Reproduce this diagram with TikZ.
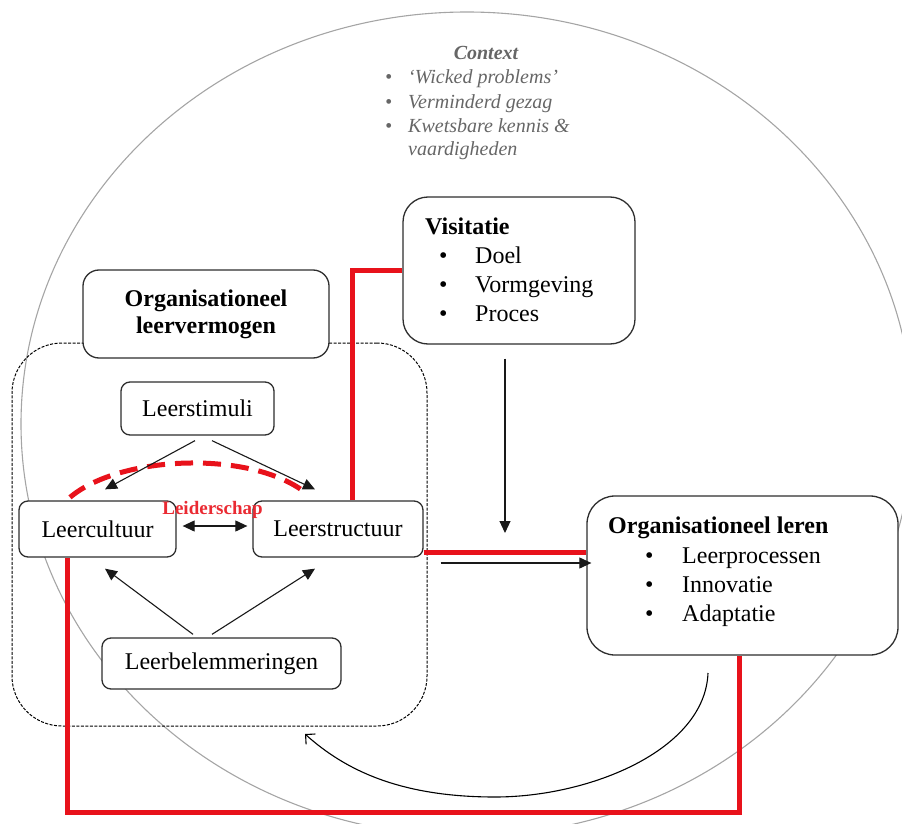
\documentclass[tikz,border=0pt]{standalone}
\usepackage{fontspec}
\setmainfont{Liberation Serif}
\usetikzlibrary{arrows.meta}
\definecolor{ctxgray}{HTML}{666666}
\definecolor{ringgray}{HTML}{A5A5A5}
\definecolor{leadred}{HTML}{E8121B}
\definecolor{boxline}{HTML}{2E2E2E}

\begin{document}
\begin{tikzpicture}[x=1pt,y=-1pt,
  box/.style={draw=boxline, line width=1.3pt, rounded corners=9pt, fill=white,
    inner sep=0pt, font=\fontsize{24}{27}\selectfont},
  lbl/.style={anchor=base west, inner sep=0pt, font=\fontsize{24}{27}\selectfont},
  ctx/.style={anchor=base west, inner sep=0pt, text=ctxgray,
    font=\fontsize{20}{24}\selectfont\itshape},
  link/.style={draw=black!90, line width=1.1pt, -{Triangle[length=12pt,width=11pt]}},
  lead/.style={draw=leadred, line width=5pt},
]
\useasboundingbox (0,0) rectangle (902,824);
\path[clip] (0,0) rectangle (902,824);

% surrounding context ring
\draw[ringgray, line width=1.1pt] (467,424) ellipse [x radius=446, y radius=412];

% context text
\node[anchor=base, inner sep=0pt, text=ctxgray,
  font=\fontsize{20}{24}\selectfont\bfseries\itshape] (ctxT) at (486,60) {Context};
\node[ctx] (cb1) at (385,84) {\textbullet};
\node[ctx] (c1) at (408,84) {‘Wicked problems’};
\node[ctx] (cb2) at (385,109) {\textbullet};
\node[ctx] (c2) at (408,109) {Verminderd gezag};
\node[ctx] (cb3) at (385,133) {\textbullet};
\node[ctx] (c3) at (408,133) {Kwetsbare kennis \&};
\node[ctx] (c4) at (408,156) {vaardigheden};

% dashed group of the learning capacity
\node[draw=black, line width=1pt, dash pattern=on 3pt off 1.5pt,
  rounded corners=50pt, minimum width=415pt, minimum height=383pt, inner sep=0pt]
  (group) at (219.5,534.5) {};

% the feedback loop back into the group
\coordinate (back) at (305,734);
\draw[line width=1.1pt, -{Straight Barb[length=7pt,width=14pt]}]
  (708,673) .. controls (705,750) and (590,797) .. (495,797)
  .. controls (400,797) and (345,770) .. (back);

% boxes
\node[box, rounded corners=25pt, minimum width=232pt, minimum height=147pt] (visit) at (519,270.5) {};
\node[box, rounded corners=28pt, minimum width=311pt, minimum height=159pt] (leren) at (742.5,575.5) {};
\node[box, rounded corners=16pt, minimum width=246pt, minimum height=88pt, align=center,
  font=\fontsize{24}{27}\selectfont\bfseries] (olv) at (206,314) {Organisationeel\\leervermogen};
\node[box, minimum width=153pt, minimum height=53pt] (stim) at (197.5,408.5) {Leerstimuli};
\node[box, minimum width=157pt, minimum height=56pt] (cult) at (97.5,529) {Leercultuur};
\node[box, minimum width=170pt, minimum height=56pt] (struct) at (338,529) {Leerstructuur};
\node[box, minimum width=239pt, minimum height=51pt] (belem) at (221.5,663.5) {Leerbelemmeringen};

% leadership links (red)
\coordinate (redbase) at (0,812);
\draw[lead] ([xshift=14pt]struct.north) |- (visit.west);
\draw[lead] ([yshift=-23pt]struct.east) -- ([yshift=-23pt]struct.east -| leren.west);
\draw[lead, line join=miter] ([xshift=-30.5pt]cult.south) -- ([xshift=-30.5pt]cult.south |- redbase)
  -| ([xshift=-3.5pt]leren.south);
\draw[lead, dash pattern=on 18pt off 10pt]
  ([xshift=-27.5pt,yshift=3pt]cult.north) .. controls (120,455) and (250,450)
  .. ([xshift=-33pt,yshift=8pt]struct.north);

% Visitatie contents
\node[lbl, font=\fontsize{24}{27}\selectfont\bfseries] (visitT) at (425,234) {Visitatie};
\node[lbl] (vb1) at (439,263) {\textbullet};
\node[lbl] (v1) at (475,263) {Doel};
\node[lbl] (vb2) at (439,292) {\textbullet};
\node[lbl] (v2) at (475,292) {Vormgeving};
\node[lbl] (vb3) at (439,321) {\textbullet};
\node[lbl] (v3) at (475,321) {Proces};

% Organisationeel leren contents
\node[lbl, font=\fontsize{24}{27}\selectfont\bfseries] (lerenT) at (608,533) {Organisationeel leren};
\node[lbl] (lb1) at (645,563) {\textbullet};
\node[lbl] (l1) at (682,563) {Leerprocessen};
\node[lbl] (lb2) at (645,592) {\textbullet};
\node[lbl] (l2) at (682,592) {Innovatie};
\node[lbl] (lb3) at (645,621) {\textbullet};
\node[lbl] (l3) at (682,621) {Adaptatie};

% black arrows
\draw[link] ([xshift=-2.5pt,yshift=-5pt]stim.south) -- ([xshift=7.5pt,yshift=11pt]cult.north);
\draw[link] ([xshift=14.5pt,yshift=-5pt]stim.south) -- ([xshift=-23pt,yshift=11pt]struct.north);
\draw[link, {Triangle[length=12pt,width=11pt]}-{Triangle[length=12pt,width=11pt]}]
  ([xshift=6pt,yshift=3pt]cult.east) -- ([xshift=-5pt,yshift=3pt]struct.west);
\draw[link] ([xshift=-28.5pt,yshift=3pt]belem.north) -- ([xshift=7.5pt,yshift=-11pt]cult.south);
\draw[link] ([xshift=-9.5pt,yshift=3pt]belem.north) -- ([xshift=-23pt,yshift=-11pt]struct.south);
\coordinate (feed) at (505,533);
\draw[link] ([xshift=-14pt,yshift=-14pt]visit.south) -- (feed);
\draw[link, shorten >=8pt] ([xshift=13pt,yshift=-28.5pt]group.east) -- ([xshift=13pt,yshift=-28.5pt]group.east -| leren.west);

% leadership label
\node[anchor=base, inner sep=0pt, text=leadred!90!white,
  font=\fontsize{19}{22}\selectfont\bfseries] (lead) at (212.5,514) {Leiderschap};
\end{tikzpicture}
\end{document}
